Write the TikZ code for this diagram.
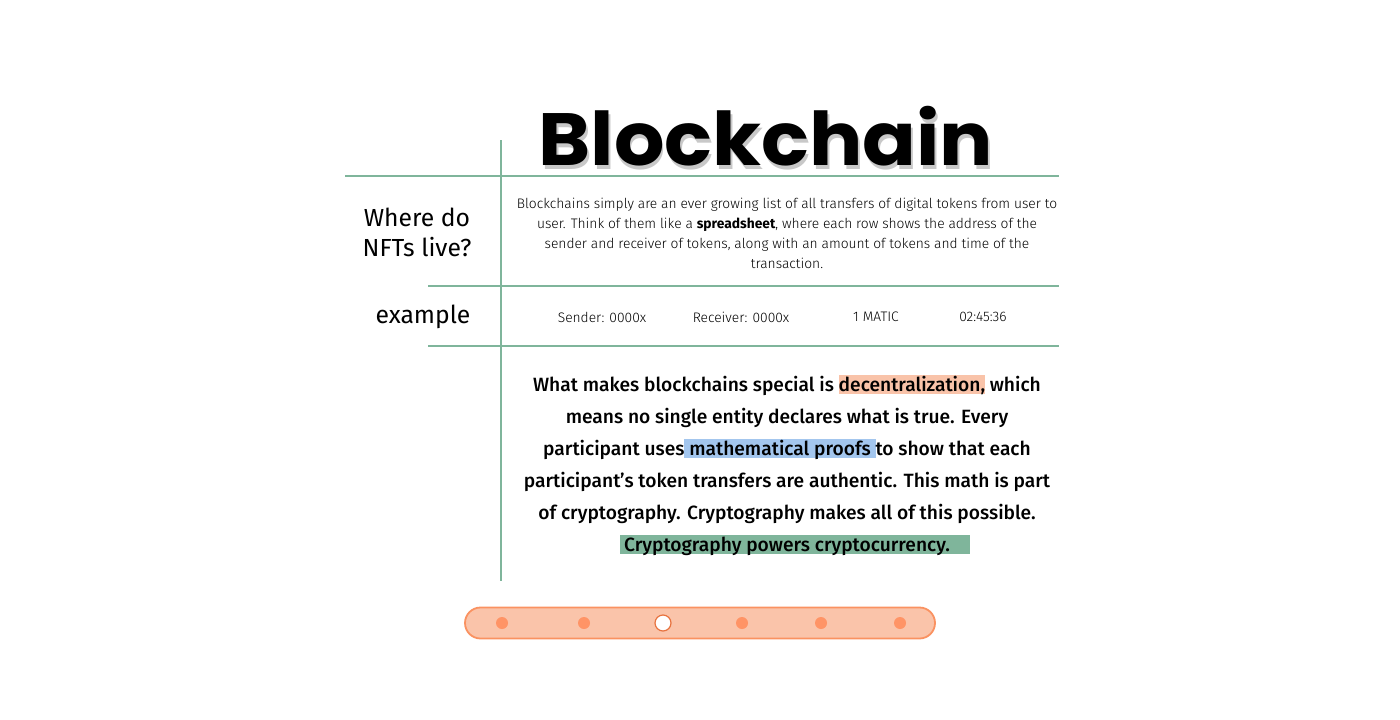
\documentclass[tikz,border=0pt]{standalone}
\usepackage{fontspec}
\setmainfont{Fira Sans}
\newfontfamily\lightfont{Fira Sans Light}
\newfontfamily\medfont{Fira Sans Medium}
\newfontfamily\titlefont{Poppins}
\definecolor{lineGreen}{HTML}{7FB59B}
\definecolor{hlSalmon}{HTML}{F9C3A9}
\definecolor{hlBlue}{HTML}{A3C6EE}
\definecolor{hlGreen}{HTML}{7FB59B}
\definecolor{sliderFill}{HTML}{FAC4AA}
\definecolor{sliderEdge}{HTML}{FA9261}
\definecolor{dotFill}{HTML}{FF9466}
\definecolor{dotEdge}{HTML}{E8733F}
\definecolor{shadowGray}{HTML}{C8C8C8}
\newcommand\hlbox[2]{\setbox0\hbox{#2}\rlap{\color{#1}\rule[-0.3ex]{\wd0}{1.85ex}}#2}
\newcommand\shadowed[1]{\rlap{\kern1.5pt\raisebox{-4pt}{\color{shadowGray}#1}}#1}
\tikzset{
  rule/.style={draw=lineGreen, line width=1.8pt},
  smalltext/.style={font=\lightfont\fontsize{13.8}{20}\selectfont, align=center, inner sep=0pt},
  labeltext/.style={font=\fontsize{24.7}{30}\selectfont, align=center, inner sep=0pt},
  bigtext/.style={font=\medfont\fontsize{19.2}{32}\selectfont, inner sep=0pt, anchor=base},
  titletext/.style={font=\titlefont\bfseries\fontsize{74}{80}\selectfont, anchor=base, inner sep=0pt},
  dot/.style={circle, fill=dotFill, minimum size=12pt, inner sep=0pt},
  curdot/.style={circle, fill=white, draw=dotEdge, line width=1.2pt, minimum size=16pt, inner sep=0pt},
}
\begin{document}
\begin{tikzpicture}[x=1pt,y=-1pt]
\useasboundingbox[fill=white] (0,0) rectangle (1400,720);
% title
\node[titletext] (title) at (766,165) {\scalebox{1.07}[1]{\shadowed{Blockchain}}};
% grid
\coordinate (vtop) at (501,140);
\coordinate (vbot) at (501,581);
\coordinate (h1l) at (345,176); \coordinate (h1r) at (1059,176);
\coordinate (h2l) at (428,286); \coordinate (h2r) at (1059,286);
\coordinate (h3l) at (428,346); \coordinate (h3r) at (1059,346);
\draw[rule] (vtop) -- (vbot);
\draw[rule] (h1l) -- (h1r);
\draw[rule] (h2l) -- (h2r);
\draw[rule] (h3l) -- (h3r);
% labels
\node[labeltext] (where) at (417,232) {Where do\\NFTs live?};
\node[labeltext] (example) at (423,317) {example};
% description
\node[smalltext] (desc) at (787,233) {Blockchains simply are an ever growing list of all transfers of digital tokens from user to\\
user. Think of them like a {\fontspec{Fira Sans}\bfseries spreadsheet}, where each row shows the address of the\\
sender and receiver of tokens, along with an amount of tokens and time of the\\
transaction.};
% example row
\node[smalltext] (sender) at (602,317) {Sender: 0000x};
\node[smalltext] (receiver) at (741,317) {Receiver: 0000x};
\node[smalltext] (amount) at (876,317) {1 MATIC};
\node[smalltext] (time) at (983,317) {02:45:36};
% paragraph
\node[bigtext] (p1) at (787,391) {What makes blockchains special is \hlbox{hlSalmon}{decentralization,} which};
\node[bigtext] (p2) at (787,423) {means no single entity declares what is true. Every};
\node[bigtext] (p3) at (787,455) {participant uses\hlbox{hlBlue}{ mathematical proofs }to show that each};
\node[bigtext] (p4) at (787,487) {participant’s token transfers are authentic. This math is part};
\node[bigtext] (p5) at (787,519) {of cryptography. Cryptography makes all of this possible.};
\node[bigtext] (p6) at (795,551) {\hlbox{hlGreen}{\kern4pt Cryptography powers cryptocurrency.\kern20pt}};
% slider
\node[draw=sliderEdge, fill=sliderFill, line width=1.8pt, rounded corners=15.5pt, minimum width=470pt, minimum height=31pt, inner sep=0pt] (slider) at (700,623) {};
\node[dot] (d1) at (502,623) {};
\node[dot] (d2) at (584,623) {};
\node[curdot] (d3) at (663,623) {};
\node[dot] (d4) at (742,623) {};
\node[dot] (d5) at (821,623) {};
\node[dot] (d6) at (900,623) {};
\end{tikzpicture}
\end{document}
